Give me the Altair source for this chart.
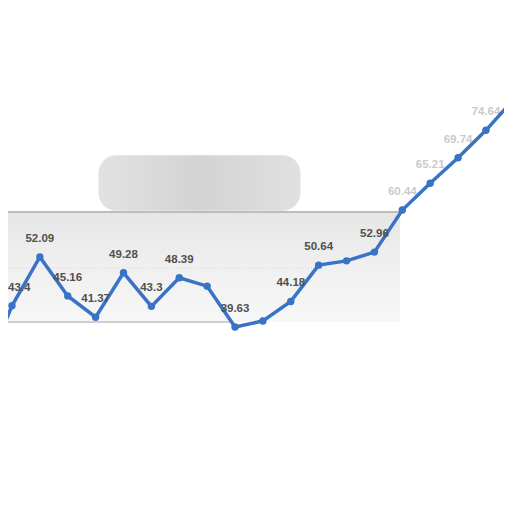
import altair as alt
import pandas as pd

# index of each sample along the x axis
idx = list(range(20))
values = [31.5, 43.4, 52.09, 45.16, 41.37, 49.28, 43.3, 48.39, 46.9, 39.63,
          40.7, 44.18, 50.64, 51.4, 52.96, 60.44, 65.21, 69.74, 74.64, 80.2]
# which labels are shown clearly (1), faintly (0.3) or hidden (0)
label_vis = [0, 1, 1, 1, 1, 1, 1, 1, 0, 1,
             0, 1, 1, 0, 1, 0.3, 0.3, 0.3, 0.3, 0]

# background panel extents (data units)
band_x = [0.857, 14.92]
band_y = [40.5, 60.1]
blob_x = [4.1, 11.35]
blob_y = [60.3, 70.2]
dotted_y = 50.13
dotted_x2 = 12.05
bottom_x2 = 8.82

XD = [0.857, 18.648]
YD = [8.12, 96.41]

df = pd.DataFrame({"i": idx, "v": values, "vis": label_vis})
df["lab"] = df["v"].map(lambda v: f"{v:g}")
lab_df = df[(df["vis"] > 0) & (df["i"] != 1)]
lab_first = df[df["i"] == 1]

xs = alt.Scale(domain=XD, nice=False, zero=False)
ys = alt.Scale(domain=YD, nice=False, zero=False)

band_df = pd.DataFrame({"x": [band_x[0]], "x2": [band_x[1]],
                        "y": [band_y[0]], "y2": [band_y[1]]})
blob_df = pd.DataFrame({"x": [blob_x[0]], "x2": [blob_x[1]],
                        "y": [blob_y[0]], "y2": [blob_y[1]]})
rules_df = pd.DataFrame({
    "x": [band_x[0], band_x[0], band_x[0]],
    "x2": [band_x[1], bottom_x2, dotted_x2],
    "y": [band_y[1], band_y[0], dotted_y],
    "kind": ["top", "bottom", "dot"],
})

band = alt.Chart(band_df).mark_rect(
    clip=True,
    fill=alt.LinearGradient(gradient="linear",
                            stops=[alt.GradientStop(color="#e6e6e6", offset=0),
                                   alt.GradientStop(color="#f0f0f0", offset=0.5),
                                   alt.GradientStop(color="#f7f7f7", offset=1)],
                            x1=0, x2=0, y1=0, y2=1),
).encode(
    x=alt.X("x:Q", scale=xs, axis=None), x2="x2:Q",
    y=alt.Y("y:Q", scale=ys, axis=None), y2="y2:Q",
)

blob = alt.Chart(blob_df).mark_rect(
    clip=True, cornerRadius=18,
    fill=alt.LinearGradient(gradient="linear",
                            stops=[alt.GradientStop(color="#e2e2e2", offset=0),
                                   alt.GradientStop(color="#d3d3d3", offset=0.5),
                                   alt.GradientStop(color="#e0e0e0", offset=1)],
                            x1=0, x2=1, y1=0, y2=0),
).encode(
    x=alt.X("x:Q", scale=xs, axis=None), x2="x2:Q",
    y=alt.Y("y:Q", scale=ys, axis=None), y2="y2:Q",
)

top_rule = alt.Chart(rules_df[rules_df.kind == "top"]).mark_rule(
    clip=True, color="#bdbdbd", strokeWidth=2
).encode(x=alt.X("x:Q", scale=xs, axis=None), x2="x2:Q",
         y=alt.Y("y:Q", scale=ys, axis=None))
bottom_rule = alt.Chart(rules_df[rules_df.kind == "bottom"]).mark_rule(
    clip=True, color="#cfcfcf", strokeWidth=2
).encode(x=alt.X("x:Q", scale=xs, axis=None), x2="x2:Q",
         y=alt.Y("y:Q", scale=ys, axis=None))
dot_rule = alt.Chart(rules_df[rules_df.kind == "dot"]).mark_rule(
    clip=True, color="#d4d4d4", strokeWidth=1, strokeDash=[1, 2]
).encode(x=alt.X("x:Q", scale=xs, axis=None), x2="x2:Q",
         y=alt.Y("y:Q", scale=ys, axis=None))

line = alt.Chart(df).mark_line(
    clip=True, color="#3873c6", strokeWidth=3.5
).encode(x=alt.X("i:Q", scale=xs, axis=None),
         y=alt.Y("v:Q", scale=ys, axis=None))

pts = alt.Chart(df).mark_point(
    clip=True, filled=True, color="#3873c6", size=55, opacity=1
).encode(x=alt.X("i:Q", scale=xs, axis=None),
         y=alt.Y("v:Q", scale=ys, axis=None))

text_style = dict(clip=True, dy=-18, font="Liberation Sans", fontWeight="bold",
                  fontSize=11.5, color="#505050", baseline="middle")

labels = alt.Chart(lab_df).mark_text(align="center", **text_style).encode(
    x=alt.X("i:Q", scale=xs, axis=None),
    y=alt.Y("v:Q", scale=ys, axis=None),
    text="lab:N",
    opacity=alt.Opacity("vis:Q", scale=None, legend=None))

label_first = alt.Chart(lab_first).mark_text(align="left", dx=-4, **text_style).encode(
    x=alt.X("i:Q", scale=xs, axis=None),
    y=alt.Y("v:Q", scale=ys, axis=None),
    text="lab:N")

chart = alt.layer(band, blob, top_rule, bottom_rule, dot_rule, line, pts,
                  labels, label_first).properties(
    width=496, height=496,
    autosize=alt.AutoSizeParams(type="none"),
    padding=0,
    background="white",
).configure_view(stroke=None)

chart.save("out.html", embed_options={"renderer": "svg", "actions": False})
